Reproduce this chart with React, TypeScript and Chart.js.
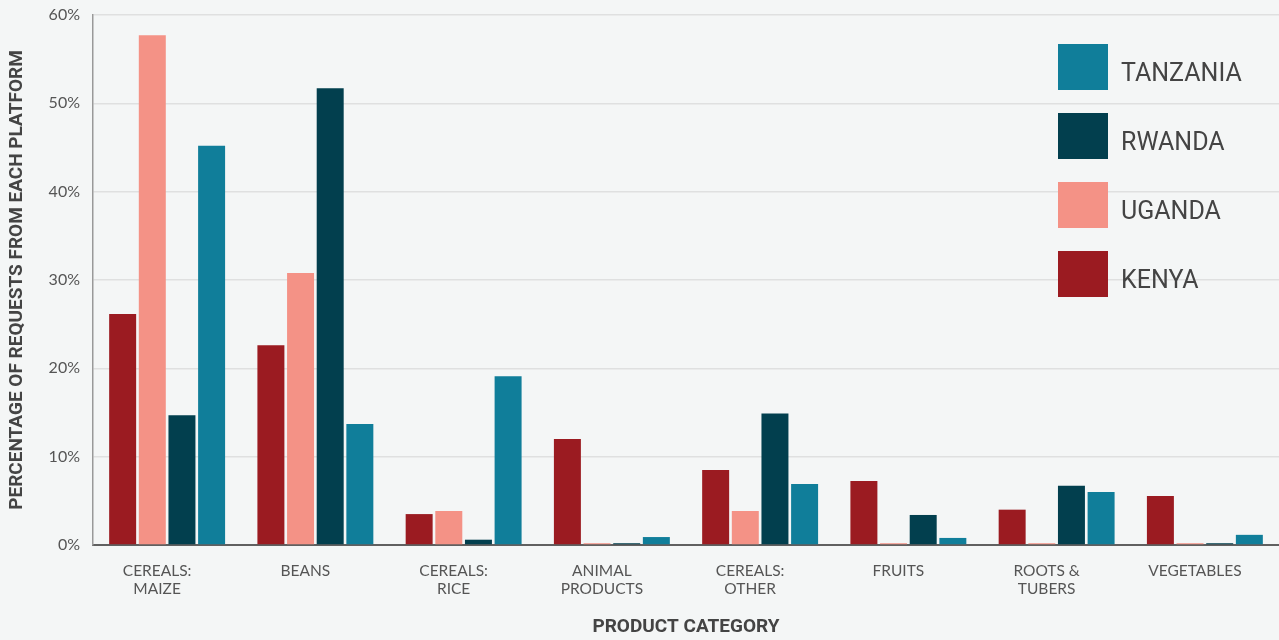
import React, { useEffect, useRef } from "react";
import { Chart, registerables } from "chart.js";

Chart.register(...registerables);

const categories: string[][] = [
  ["CEREALS:", "MAIZE"],
  ["BEANS"],
  ["CEREALS:", "RICE"],
  ["ANIMAL", "PRODUCTS"],
  ["CEREALS:", "OTHER"],
  ["FRUITS"],
  ["ROOTS &", "TUBERS"],
  ["VEGETABLES"],
];

const kenya = [26.15, 22.6, 3.5, 12.0, 8.5, 7.25, 4.0, 5.55];
const uganda = [57.7, 30.8, 3.85, 0.2, 3.85, 0.2, 0.2, 0.2];
const rwanda = [14.7, 51.7, 0.6, 0.2, 14.9, 3.4, 6.7, 0.2];
const tanzania = [45.2, 13.7, 19.1, 0.9, 6.9, 0.8, 6.0, 1.15];

const seriesNames = ["KENYA", "UGANDA", "RWANDA", "TANZANIA"];
const seriesColors = ["#9b1b21", "#f49286", "#023f4e", "#107e9a"];

const yTicks = [0, 10, 20, 30, 40, 50, 60];

const legendPlugin = {
  id: "customLegend",
  afterDraw(chart: any) {
    const ctx = chart.ctx;
    const ds = chart.data.datasets.slice().reverse();
    ctx.save();
    ds.forEach((d: any, i: number) => {
      const cy = 67 + i * 69;
      ctx.fillStyle = d.backgroundColor;
      ctx.fillRect(1058, cy - 23, 50, 46);
      ctx.fillStyle = "#444";
      ctx.font = "400 25px Roboto";
      ctx.textBaseline = "middle";
      ctx.textAlign = "left";
      ctx.fillText(d.label, 1121, cy + 8);
    });
    ctx.restore();
  },
};

export default function App() {
  const ref = useRef<HTMLCanvasElement>(null);

  useEffect(() => {
    document.body.style.margin = "0";
    document.body.style.background = "#f4f6f6";
    const values = [kenya, uganda, rwanda, tanzania];
    const chart = new Chart(ref.current as HTMLCanvasElement, {
      type: "bar",
      data: {
        labels: categories,
        datasets: seriesNames.map((n, i) => ({
          label: n,
          data: values[i],
          backgroundColor: seriesColors[i],
          borderWidth: 0,
          categoryPercentage: 0.8,
          barPercentage: 0.91,
        })),
      },
      options: {
        animation: false,
        responsive: false,
        maintainAspectRatio: false,
        layout: { padding: { top: 15, right: 0, left: 0, bottom: 0 } },
        plugins: {
          legend: { display: false },
          tooltip: { enabled: false },
        },
        scales: {
          x: {
            grid: { display: false, drawTicks: false },
            border: { display: true, color: "#606060", width: 2 },
            ticks: {
              padding: 17,
              labelOffset: -10,
              color: "#555",
              font: { family: "Lato", size: 15.5, lineHeight: 1.16 },
              maxRotation: 0,
              autoSkip: false,
            },
            title: {
              display: true,
              text: "PRODUCT CATEGORY",
              color: "#444",
              font: { family: "Roboto", size: 19, weight: "bold", lineHeight: 1.2 },
              padding: { top: 4, bottom: 1 },
            },
            afterFit(scale: any) {
              scale.height = 95;
            },
          },
          y: {
            min: 0,
            max: 60,
            afterBuildTicks(scale: any) {
              scale.ticks = yTicks.map((v) => ({ value: v }));
            },
            grid: { color: "#dfe0e0", lineWidth: 1.5, drawTicks: false },
            border: { display: true, color: "#999", width: 1.5 },
            ticks: {
              padding: 13,
              color: "#555",
              font: { family: "Lato", size: 16 },
              callback: (v: any) => v + "%",
            },
            title: {
              display: true,
              text: "PERCENTAGE OF REQUESTS FROM EACH PLATFORM",
              color: "#444",
              font: { family: "Roboto", size: 19, weight: "bold", lineHeight: 1.2 },
              padding: { top: 6, bottom: 0 },
            },
            afterFit(scale: any) {
              scale.width = 93;
              scale.paddingTop = 8;
              scale.paddingBottom = 8;
            },
          },
        },
      },
      plugins: [legendPlugin],
    });
    return () => chart.destroy();
  }, []);

  return (
    <div style={{ width: 1279, height: 640, background: "#f4f6f6" }}>
      <canvas ref={ref} width={1279} height={640} style={{ display: "block" }} />
    </div>
  );
}
